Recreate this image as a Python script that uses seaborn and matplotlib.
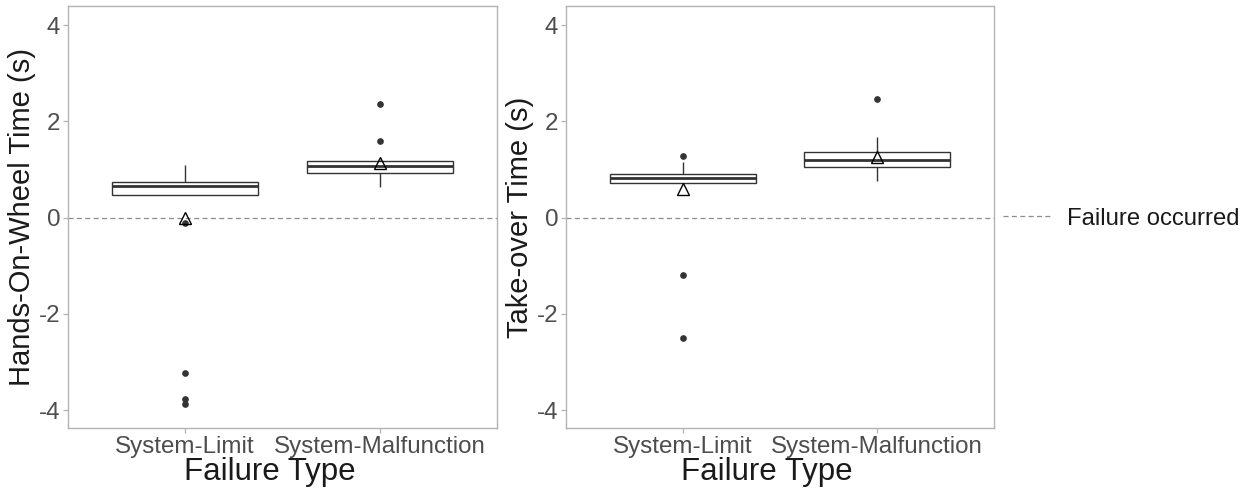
import numpy as np
import pandas as pd
import matplotlib
matplotlib.use("Agg")
import matplotlib.pyplot as plt
import seaborn as sns
from matplotlib.lines import Line2D

# ---- data ----
categories = ["System-Limit", "System-Malfunction"]

how_system_limit = [-3.87, -3.78, -3.24, -0.11, 0.47, 0.47, 0.47, 0.47, 0.48, 0.64,
                    0.68, 0.68, 0.70, 0.72, 0.74, 0.74, 0.74, 0.75, 0.78, 1.09]
how_system_malfunction = [0.63, 0.90, 0.92, 0.93, 0.93, 0.93, 1.03, 1.05, 1.06, 1.06,
                          1.08, 1.14, 1.16, 1.17, 1.17, 1.17, 1.20, 1.20, 1.60, 2.36]

tot_system_limit = [-2.51, -1.19, 0.72, 0.72, 0.72, 0.72, 0.74, 0.78, 0.81, 0.82,
                    0.84, 0.86, 0.88, 0.89, 0.90, 0.90, 0.92, 0.98, 1.16, 1.28]
tot_system_malfunction = [0.76, 0.88, 0.98, 1.02, 1.05, 1.05, 1.08, 1.12, 1.16, 1.19,
                          1.21, 1.25, 1.30, 1.34, 1.36, 1.36, 1.40, 1.50, 1.67, 2.47]

y_ticks = [-4, -2, 0, 2, 4]
y_tick_labels = ["-4", "-2", "0", "2", "4"]
panel_ylabels = ["Hands-On-Wheel Time (s)", "Take-over Time (s)"]
x_title = "Failure Type"
ref_label = "Failure occurred"
ref_value = 0

# ---- style ----
sns.set_theme(style="white")
plt.rcParams["font.family"] = ["Liberation Sans", "DejaVu Sans"]
plt.rcParams["axes.unicode_minus"] = False

W, H = 1250, 490
fig = plt.figure(figsize=(W / 100, H / 100), dpi=100)
ax1 = fig.add_axes([68 / W, 1 - 428 / H, 429 / W, 422 / H])
ax2 = fig.add_axes([566 / W, 1 - 428 / H, 428 / W, 422 / H])

line_col = "#333333"
frame_col = "#b3b3b3"
dash_col = "#8c8c8c"

panels = [
    (ax1, how_system_limit, how_system_malfunction, panel_ylabels[0]),
    (ax2, tot_system_limit, tot_system_malfunction, panel_ylabels[1]),
]

for ax, a, b, ylab in panels:
    df = pd.DataFrame({
        "type": [categories[0]] * len(a) + [categories[1]] * len(b),
        "value": list(a) + list(b),
    })
    ax.axhline(ref_value, color=dash_col, linestyle=(0, (4, 2.7)),
               linewidth=0.9, zorder=1)
    sns.boxplot(
        data=df, x="type", y="value", order=categories, ax=ax,
        color="white", linecolor=line_col, linewidth=1.0, width=0.75,
        showcaps=False, showmeans=True, whis=1.5,
        meanprops=dict(marker="^", markerfacecolor="none",
                       markeredgecolor="black", markersize=8,
                       markeredgewidth=1.0),
        medianprops=dict(linewidth=2.0, color=line_col),
        flierprops=dict(marker="o", markerfacecolor=line_col,
                        markeredgecolor=line_col, markersize=3.8),
        zorder=2,
    )
    ax.set_xlim(-0.6, 1.6)
    ax.set_ylim(-4.374, 4.395)
    ax.set_yticks(y_ticks)
    ax.set_yticklabels(y_tick_labels)
    for s in ax.spines.values():
        s.set_color(frame_col)
        s.set_linewidth(1.0)
    ax.tick_params(bottom=True, left=True, direction="out", length=3.5,
                   width=0.9, color=frame_col, labelsize=17.4,
                   labelcolor="#4d4d4d", pad=2)
    ax.set_ylabel(ylab, fontsize=21, color="#1a1a1a", labelpad=2)
    ax.set_xlabel(x_title, fontsize=22.5, color="#1a1a1a", labelpad=0)
    ax.xaxis.set_label_coords(0.47, -0.068)
    ax.grid(False)

handle = Line2D([0], [0], color=dash_col, linestyle=(0, (4, 2.7)), linewidth=0.9)
ax2.legend(handles=[handle], labels=[ref_label], loc="center left",
           bbox_to_anchor=(1 + 9 / 428, 0.496), frameon=False, borderpad=0,
           borderaxespad=0, handlelength=2.1, handletextpad=0.6, fontsize=17.2,
           labelcolor="#1a1a1a")

fig.savefig("out.png", dpi=100)
